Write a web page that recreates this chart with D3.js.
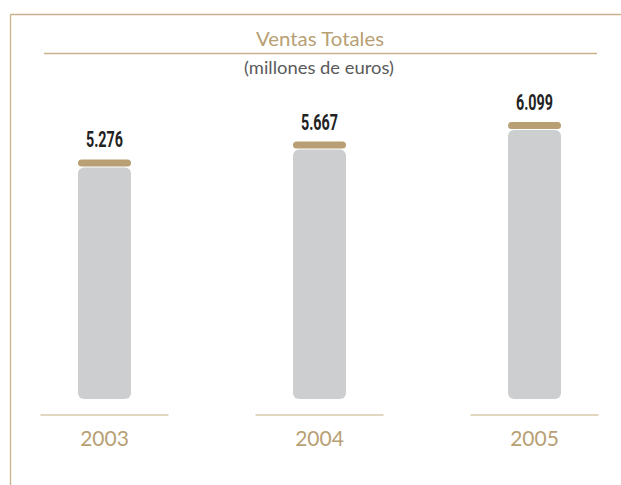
<!DOCTYPE html>
<html><head><meta charset="utf-8">
<script src="https://cdn.jsdelivr.net/npm/d3@7"></script>
<style>html,body{margin:0;padding:0;background:#fff;}svg{display:block;}</style>
</head><body>
<svg id="c" width="621" height="485"></svg>
<script>
const years = ["2003", "2004", "2005"];
const values = [5276, 5667, 6099];
const title = "Ventas Totales";
const subtitle = "(millones de euros)";

const W = 621, H = 485;
const gold = "#b89f74", frame = "#c8b18b", grey = "#cdced0";
const svg = d3.select("#c");
const loc = d3.formatLocale({decimal: ",", thousands: ".", grouping: [3], currency: ["", "€"]});
const fmt = loc.format(",d");

const x = d3.scaleBand().domain(years).range([-3, 642]).paddingInner(0);
const y = d3.scaleLinear().domain([0, 6099]).range([399, 122]);
const bw = 53;

// frame
svg.append("line").attr("x1", 10.5).attr("x2", W).attr("y1", 14.5).attr("y2", 14.5).attr("stroke", frame).attr("stroke-width", 1.3);
svg.append("line").attr("x1", 10.5).attr("x2", 10.5).attr("y1", 14.5).attr("y2", H).attr("stroke", frame).attr("stroke-width", 1.3);

// title
svg.append("text").attr("x", 320).attr("y", 46).attr("text-anchor", "middle")
  .attr("font-family", "Lato, 'Open Sans', sans-serif").attr("font-weight", 400).attr("font-size", 19)
  .attr("textLength", 128).attr("lengthAdjust", "spacingAndGlyphs")
  .attr("fill", gold).text(title);
svg.append("line").attr("x1", 44).attr("x2", 597).attr("y1", 53.5).attr("y2", 53.5).attr("stroke", frame).attr("stroke-width", 1.3);
svg.append("text").attr("x", 319).attr("y", 74).attr("text-anchor", "middle")
  .attr("font-family", "Lato, 'Open Sans', sans-serif").attr("font-weight", 400).attr("font-size", 17)
  .attr("textLength", 150).attr("lengthAdjust", "spacingAndGlyphs")
  .attr("fill", "#5a5a5a").text(subtitle);

const g = svg.selectAll("g.bar").data(years.map((d, i) => ({year: d, value: values[i]})))
  .enter().append("g").attr("class", "bar");

const cx = d => x(d.year) + x.bandwidth() / 2;

// grey bar
g.append("rect").attr("x", d => cx(d) - bw / 2).attr("width", bw)
  .attr("y", d => y(d.value) + 8).attr("height", d => y(0) - y(d.value) - 8)
  .attr("rx", 6).attr("fill", grey);
// cap
g.append("rect").attr("x", d => cx(d) - bw / 2).attr("width", bw)
  .attr("y", d => y(d.value)).attr("height", 7).attr("rx", 3.5).attr("fill", gold);
// value label
g.append("text").attr("x", cx).attr("y", d => y(d.value) - 12).attr("text-anchor", "middle")
  .attr("font-family", "Roboto, 'DejaVu Sans', sans-serif")
  .attr("font-weight", 700).attr("font-size", 22).attr("fill", "#222")
  .attr("textLength", 37).attr("lengthAdjust", "spacingAndGlyphs")
  .text(d => fmt(d.value));
// baseline
g.append("line").attr("x1", d => cx(d) - 64).attr("x2", d => cx(d) + 64)
  .attr("y1", 415).attr("y2", 415).attr("stroke", "#d8c8ab").attr("stroke-width", 1.5);
// year label
g.append("text").attr("x", cx).attr("y", 446).attr("text-anchor", "middle")
  .attr("font-family", "Lato, 'Open Sans', sans-serif").attr("font-weight", 400).attr("font-size", 21)
  .attr("fill", gold).text(d => d.year);
</script>
</body></html>
